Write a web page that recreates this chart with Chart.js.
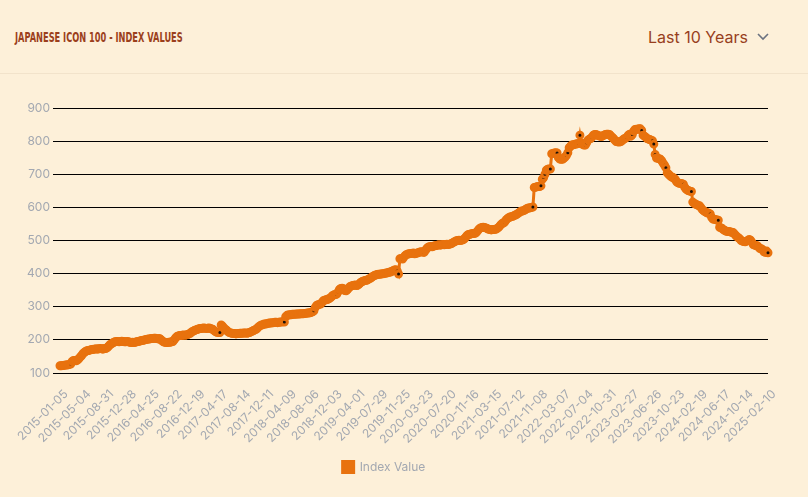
<!DOCTYPE html>
<html>
<head>
<meta charset="utf-8">
<script src="https://cdn.jsdelivr.net/npm/chart.js@4.4.1/dist/chart.umd.min.js"></script>
<style>
  html, body { margin: 0; padding: 0; background: #fdf0d9; width: 808px; height: 497px; overflow: hidden; font-family: Inter, sans-serif; }
  .header { position: absolute; left: 0; top: 0; width: 808px; height: 73px; border-bottom: 1px solid #f2e3cb; }
  .title { position: absolute; left: 15px; top: 29px; font-family: "Liberation Sans Narrow", "DejaVu Sans Condensed", sans-serif; font-weight: bold; font-size: 14px; color: #9b3f1c; white-space: nowrap; transform-origin: 0 0; }
  .range { position: absolute; left: 648px; top: 27px; font-size: 16px; color: #983f1d; }
  .chev { position: absolute; left: 757px; top: 33px; }
  .chart-box { position: absolute; left: 0; top: 74px; width: 808px; height: 423px; }
</style>
</head>
<body>
<div class="header">
  <span class="title" id="title">JAPANESE ICON 100 - INDEX VALUES</span>
  <span class="range">Last 10 Years</span>
  <svg class="chev" width="12" height="8"><polyline points="1,1 6,6 11,1" fill="none" stroke="#6b7280" stroke-width="1.6"/></svg>
</div>
<div class="chart-box"><canvas id="index_chart" width="808" height="423"></canvas></div>
<script>
// weekly index values, one row per 17 weeks (one labelled tick per row)
const indexValues = [
  122,122,123,123,124,124,125,126,127,135,138,138,137,139,143,148,152,
  158,162,165,167,168,169,170,171,172,172,173,172,173,174,173,172,174,
  174,176,180,185,187,190,193,194,195,195,194,195,196,195,194,194,195,
  194,193,192,193,192,193,194,195,196,197,198,199,200,201,202,203,203,
  204,204,205,205,204,203,204,201,197,194,193,192,192,193,193,194,195,
  200,206,210,212,213,213,214,215,214,215,216,218,220,224,226,228,230,
  231,233,234,234,235,236,235,234,235,236,234,233,231,227,224,223,222,
  222,245,241,236,232,229,225,222,221,220,219,219,218,219,219,220,220,
  220,221,221,220,221,222,224,226,228,230,232,236,240,243,245,246,248,
  248,249,250,251,251,252,252,253,253,252,253,254,254,255,254,270,274,
  275,276,276,277,277,277,278,278,278,279,279,279,280,280,281,281,282,
  283,285,288,298,304,306,307,308,313,318,320,321,322,324,326,330,334,
  336,337,338,345,352,355,356,354,349,348,352,357,361,363,364,365,366,
  364,366,370,374,376,378,379,380,381,384,386,389,392,394,396,397,398,
  398,399,400,400,401,402,403,404,405,407,409,411,412,408,399,445,446,
  444,450,455,458,459,460,461,461,462,460,461,462,464,465,466,465,464,
  470,476,480,481,482,481,483,484,485,486,487,486,487,488,487,488,489,
  488,489,490,492,495,497,499,500,501,500,501,502,505,510,515,518,519,
  520,521,521,522,525,530,535,538,539,540,539,538,536,534,533,532,533,
  533,534,535,538,542,547,551,553,556,562,566,569,571,572,573,575,577,
  579,582,585,588,589,590,592,595,597,598,599,600,601,660,661,662,663,
  663,665,685,690,700,712,715,716,716,762,763,764,765,764,750,746,745,
  745,748,752,757,765,780,785,788,789,790,791,792,793,818,795,790,788,
  788,795,803,806,808,812,818,820,820,818,816,815,814,816,818,820,821,
  821,820,816,812,808,803,799,798,797,798,800,804,807,809,812,818,821,
  815,820,830,835,836,836,837,837,832,818,815,812,808,806,805,803,801,
  791,760,749,748,747,745,740,733,727,720,704,700,696,692,691,688,684,
  677,674,673,672,671,670,661,655,652,650,649,648,616,612,610,608,606,
  605,600,594,590,587,585,583,582,580,570,565,564,563,562,561,540,538,
  536,532,530,528,527,527,526,525,524,520,515,511,508,505,500,498,497,
  496,498,500,503,501,495,488,486,485,484,480,476,475,472,466,464,468,
  463
];

// dates shown under the x axis
const tickLabels = [
  '2015-01-05','2015-05-04','2015-08-31','2015-12-28','2016-04-25','2016-08-22',
  '2016-12-19','2017-04-17','2017-08-14','2017-12-11','2018-04-09','2018-08-06',
  '2018-12-03','2019-04-01','2019-07-29','2019-11-25','2020-03-23','2020-07-20',
  '2020-11-16','2021-03-15','2021-07-12','2021-11-08','2022-03-07','2022-07-04',
  '2022-10-31','2023-02-27','2023-06-26','2023-10-23','2024-02-19','2024-06-17',
  '2024-10-14','2025-02-10'
];

const yTicks = [100, 200, 300, 400, 500, 600, 700, 800, 900];

// one category per week, starting at the first tick date
const weekLabels = [];
let day = new Date(tickLabels[0] + 'T00:00:00Z');
for (let i = 0; i < indexValues.length; i++) {
  weekLabels.push(day.toISOString().slice(0, 10));
  day.setUTCDate(day.getUTCDate() + 7);
}
const shown = new Set(tickLabels);

const title = document.getElementById('title');
title.style.transform = 'scaleX(' + (168 / title.offsetWidth) + ')';

const orange = '#e8720e';
const gray = '#a3a8b1';

let ctx = document.getElementById('index_chart').getContext('2d');
let indexChart = new Chart(ctx, {
  type: 'line',
  data: {
    labels: weekLabels,
    datasets: [{
      label: 'Index Value',
      data: indexValues,
      borderColor: orange,
      backgroundColor: orange,
      borderWidth: 3,
      pointRadius: 3,
      pointBorderWidth: 3,
      pointBackgroundColor: '#1b1008',
      pointBorderColor: orange,
      tension: 0
    }]
  },
  options: {
    responsive: false,
    animation: false,
    layout: { padding: { left: 0, right: 40, top: 34, bottom: 14 } },
    plugins: {
      legend: {
        position: 'bottom',
        labels: { boxWidth: 11, boxHeight: 11, color: gray, font: { family: 'Inter', size: 12 } }
      },
      tooltip: { enabled: false }
    },
    scales: {
      x: {
        grid: { display: false },
        border: { display: false },
        afterFit: (scale) => { scale.height = 78; },
        ticks: {
          autoSkip: false,
          minRotation: 45,
          maxRotation: 45,
          labelOffset: 6,
          padding: 6,
          color: gray,
          font: { family: 'Inter', size: 12 },
          callback: (v, i) => shown.has(weekLabels[i]) ? weekLabels[i] : null
        }
      },
      y: {
        min: yTicks[0],
        max: yTicks[yTicks.length - 1],
        afterFit: (scale) => { scale.width = 60; },
        grid: { color: '#000', lineWidth: 1, tickLength: 7 },
        border: { display: false },
        ticks: { stepSize: 100, color: gray, padding: 3, font: { family: 'Inter', size: 12 } }
      }
    }
  }
});
</script>
</body>
</html>
